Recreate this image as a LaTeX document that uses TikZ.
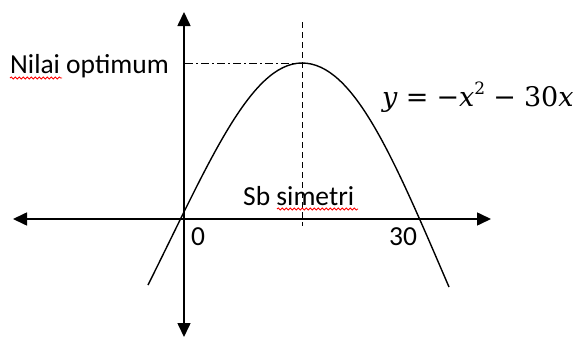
\documentclass[tikz,border=0pt]{standalone}
\usepackage{fontspec}
\setmainfont{Carlito}
\newfontfamily\eqfont{DejaVu Serif}
\usetikzlibrary{arrows.meta,decorations.pathmorphing}
\tikzset{
  axis/.style={line width=1.6pt,{Triangle[width=13pt,length=14pt]}-{Triangle[width=13pt,length=14pt]}},
  curve/.style={line width=1.4pt},
  guide/.style={line width=1pt},
  lbl/.style={inner sep=0pt,anchor=base west,font=\fontsize{27.5}{30}\selectfont},
  spell/.style={red,line width=0.8pt,decorate,decoration={snake,amplitude=1.1pt,segment length=4pt}}
}
\newcommand{\opgap}{\hspace{0.3em}}
\begin{document}
\begin{tikzpicture}[x=1pt,y=-1pt]
\useasboundingbox (0,0) rectangle (582,340);
% axes
\coordinate (xl) at (13,219);
\coordinate (xr) at (491,219);
\coordinate (yt) at (184,12);
\coordinate (yb) at (184,337);
\draw[axis] (xl) -- (xr);
\draw[axis] (yb) -- (yt);
% guides
\coordinate (top) at (302,63);
\coordinate (vtop) at (302,22);
\coordinate (vbot) at (302,226);
\coordinate (yopt) at (185,63);
\draw[guide,dash pattern=on 6pt off 4pt] (vtop) -- (vbot);
\draw[guide,dash pattern=on 8pt off 3pt on 2pt off 3pt] (yopt) -- (top);
% parabola
\coordinate (cl) at (148,285);
\coordinate (cr) at (449,287);
\draw[curve] (cl) .. controls (208,165) and (250,63) .. (top)
                  .. controls (354,63) and (394,159) .. (cr);
% labels
\node[lbl] (opt) at (10,74) {Nilai optimum};
\node[lbl] (sb) at (243,205) {Sb simetri};
\node[lbl] (zero) at (191,245) {0};
\node[lbl] (thirty) at (389,245) {30};
\node[inner sep=0pt,anchor=base west,font=\eqfont\fontsize{27}{29}\selectfont] (eq) at (382,106)
  {\textit{y}\opgap=\opgap−\textit{x}\raisebox{0.42em}{\fontsize{17}{18}\selectfont 2}\opgap−\opgap30\textit{x}};
% spell-check squiggles
\coordinate (s1a) at (10,78);
\coordinate (s1b) at (62,78);
\coordinate (s2a) at (277,209);
\coordinate (s2b) at (358,209);
\draw[spell] (s1a) -- (s1b);
\draw[spell] (s2a) -- (s2b);
\end{tikzpicture}
\end{document}
